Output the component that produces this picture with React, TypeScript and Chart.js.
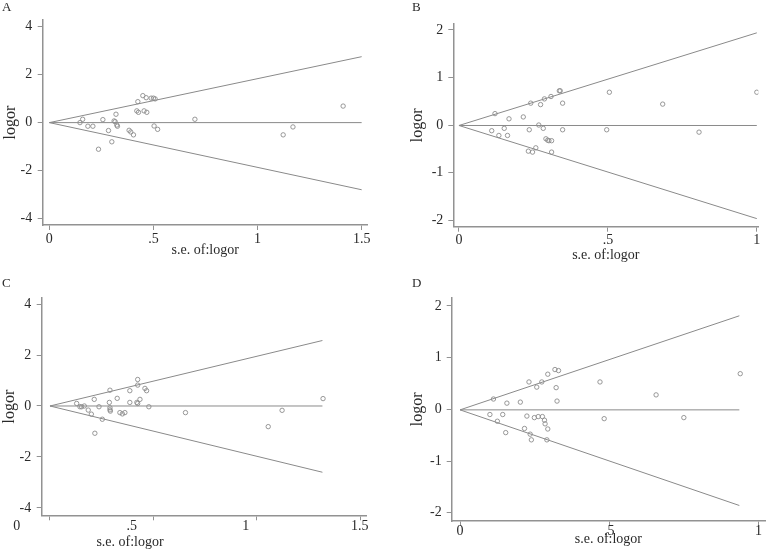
import React, { useEffect, useRef } from 'react';
import { Chart, registerables } from 'chart.js';

Chart.register(...registerables);

const FONT = "'Liberation Serif', 'Times New Roman', serif";
const INK = '#2a2a2a';
const AXIS = '#929292';
const LINE = '#8a8a8a';
const MARK = '#8c8c8c';

// ---------- Panel A ----------
const A_SE = [0.147, 0.16, 0.185, 0.209, 0.236, 0.257, 0.284, 0.3, 0.311, 0.316, 0.32, 0.324, 0.327, 0.383, 0.391, 0.404, 0.425, 0.42, 0.428, 0.455, 0.468, 0.449, 0.465, 0.489, 0.5, 0.508, 0.503, 0.52, 0.699, 1.123, 1.17, 1.411];
const A_LOGOR = [0, 0.14, -0.15, -0.15, -1.11, 0.125, -0.33, -0.8, 0.07, 0.04, 0.35, -0.1, -0.15, -0.32, -0.39, -0.51, 0.875, 0.49, 0.43, 0.49, 0.43, 1.125, 1.04, 1.02, 1.02, 0.99, -0.14, -0.28, 0.14, -0.51, -0.18, 0.69];
const A_FUNNEL_SE = [0, 1.5];
const A_FUNNEL_UP = [0, 2.75];
const A_FUNNEL_LO = [0, -2.8];
const A_CENTER = [0, 0];
const A_X_TICKS = [0, 0.5, 1, 1.5];
const A_X_LABELS = ['0', '.5', '1', '1.5'];
const A_Y_TICKS = [-4, -2, 0, 2, 4];
const A_Y_LABELS = ['-4', '-2', '0', '2', '4'];

// ---------- Panel B ----------
const B_SE = [0.11, 0.121, 0.134, 0.152, 0.163, 0.168, 0.216, 0.233, 0.236, 0.241, 0.247, 0.258, 0.268, 0.274, 0.283, 0.287, 0.292, 0.298, 0.302, 0.311, 0.309, 0.311, 0.337, 0.34, 0.348, 0.348, 0.496, 0.505, 0.684, 0.806, 1.0];
const B_LOGOR = [-0.12, 0.24, -0.22, -0.07, -0.22, 0.13, 0.17, -0.55, -0.1, 0.46, -0.57, -0.48, 0, 0.43, -0.07, 0.55, -0.29, -0.32, -0.33, -0.33, 0.6, -0.57, 0.72, 0.72, 0.46, -0.1, -0.1, 0.69, 0.44, -0.15, 0.69];
const B_FUNNEL_SE = [0, 1.0];
const B_FUNNEL_UP = [-0.01, 1.94];
const B_FUNNEL_LO = [-0.01, -1.97];
const B_CENTER = [-0.01, -0.01];
const B_X_TICKS = [0, 0.5, 1];
const B_X_LABELS = ['0', '.5', '1'];
const B_Y_TICKS = [-2, -1, 0, 1, 2];
const B_Y_LABELS = ['-2', '-1', '0', '1', '2'];

// ---------- Panel C ----------
const C_SE = [0.129, 0.145, 0.153, 0.166, 0.185, 0.2, 0.214, 0.217, 0.237, 0.253, 0.29, 0.287, 0.29, 0.29, 0.292, 0.325, 0.338, 0.35, 0.362, 0.386, 0.386, 0.424, 0.424, 0.42, 0.424, 0.435, 0.459, 0.467, 0.478, 0.655, 1.055, 1.122, 1.32];
const C_LOGOR = [0.1, -0.03, -0.03, 0, -0.16, -0.32, 0.26, -1.07, -0.03, -0.52, 0.62, 0.14, -0.07, -0.15, -0.2, 0.3, -0.26, -0.31, -0.26, 0.6, 0.14, 1.04, 0.82, 0.14, 0.1, 0.26, 0.69, 0.6, -0.03, -0.26, -0.81, -0.17, 0.29];
const C_FUNNEL_SE = [0, 1.317];
const C_FUNNEL_UP = [0, 2.57];
const C_FUNNEL_LO = [0, -2.6];
const C_CENTER = [0, 0];
const C_X_TICKS = [0, 0.5, 1, 1.5];
const C_X_LABELS = ['0', '.5', '1', '1.5'];
// where the (offset) tick labels sit in the source figure, in x-axis units
const C_X_LABEL_AT = [-0.161, 0.395, 0.946, 1.498];
const C_Y_TICKS = [-4, -2, 0, 2, 4];
const C_Y_LABELS = ['-4', '-2', '0', '2', '4'];

// ---------- Panel D ----------
const D_SE = [0.1, 0.112, 0.125, 0.143, 0.153, 0.157, 0.202, 0.216, 0.224, 0.231, 0.235, 0.239, 0.249, 0.257, 0.262, 0.274, 0.276, 0.283, 0.285, 0.291, 0.294, 0.294, 0.318, 0.33, 0.322, 0.325, 0.469, 0.483, 0.657, 0.75, 0.939];
const D_LOGOR = [-0.1, 0.2, -0.23, -0.1, -0.45, 0.12, 0.14, -0.37, -0.13, 0.53, -0.48, -0.59, -0.16, 0.43, -0.14, 0.53, -0.14, -0.21, -0.28, -0.59, 0.68, -0.38, 0.77, 0.75, 0.42, 0.16, 0.53, -0.18, 0.28, -0.16, 0.69];
const D_FUNNEL_SE = [0, 0.936];
const D_FUNNEL_UP = [-0.01, 1.81];
const D_FUNNEL_LO = [-0.01, -1.86];
const D_CENTER = [-0.01, -0.01];
const D_X_TICKS = [0, 0.5, 1];
const D_X_LABELS = ['0', '.5', '1'];
const D_Y_TICKS = [-2, -1, 0, 1, 2];
const D_Y_LABELS = ['-2', '-1', '0', '1', '2'];

const X_TITLE = 's.e. of:logor';
const Y_TITLE = 'logor';

type Panel = {
  letter: string;
  left: number; top: number;
  se: number[]; logor: number[];
  fse: number[]; fup: number[]; flo: number[]; fc: number[];
  xTicks: number[]; xLabels: string[]; yTicks: number[]; yLabels: string[];
  xMin: number; xMax: number; yMin: number; yMax: number;
  padTop: number; padRight: number; yWidth: number; xHeight: number;
  yTitlePad: number; xTitlePad: number; xTickPad: number; yTickPad: number;
  shifted?: { at: number[]; titleAt: number; dy: number; titleDy: number };
};

const PANELS: Panel[] = [
  {
    letter: 'A', left: 0, top: 0,
    se: A_SE, logor: A_LOGOR, fse: A_FUNNEL_SE, fup: A_FUNNEL_UP, flo: A_FUNNEL_LO, fc: A_CENTER,
    xTicks: A_X_TICKS, xLabels: A_X_LABELS, yTicks: A_Y_TICKS, yLabels: A_Y_LABELS,
    xMin: -0.032, xMax: 1.529, yMin: -4.27, yMax: 4.28,
    padTop: 20, padRight: 17.3, yWidth: 42.7, xHeight: 51,
    yTitlePad: 1, xTitlePad: 17, xTickPad: 1, yTickPad: 5.5,
  },
  {
    letter: 'B', left: 385, top: 0,
    se: B_SE, logor: B_LOGOR, fse: B_FUNNEL_SE, fup: B_FUNNEL_UP, flo: B_FUNNEL_LO, fc: B_CENTER,
    xTicks: B_X_TICKS, xLabels: B_X_LABELS, yTicks: B_Y_TICKS, yLabels: B_Y_LABELS,
    xMin: -0.019, xMax: 1.005, yMin: -2.14, yMax: 2.126,
    padTop: 24, padRight: 11.7, yWidth: 68.3, xHeight: 49.3,
    yTitlePad: 23, xTitlePad: 12.6, xTickPad: 0, yTickPad: 5,
  },
  {
    letter: 'C', left: 0, top: 276,
    se: C_SE, logor: C_LOGOR, fse: C_FUNNEL_SE, fup: C_FUNNEL_UP, flo: C_FUNNEL_LO, fc: C_CENTER,
    xTicks: C_X_TICKS, xLabels: C_X_LABELS, yTicks: C_Y_TICKS, yLabels: C_Y_LABELS,
    xMin: -0.04, xMax: 1.531, yMin: -4.29, yMax: 4.25,
    padTop: 21.7, padRight: 18.3, yWidth: 41.7, xHeight: 36.7,
    yTitlePad: 0, xTitlePad: 0, xTickPad: 0, yTickPad: 5.5,
    shifted: { at: C_X_LABEL_AT, titleAt: 0.387, dy: 11, titleDy: 27.4 },
  },
  {
    letter: 'D', left: 385, top: 276,
    se: D_SE, logor: D_LOGOR, fse: D_FUNNEL_SE, fup: D_FUNNEL_UP, flo: D_FUNNEL_LO, fc: D_CENTER,
    xTicks: D_X_TICKS, xLabels: D_X_LABELS, yTicks: D_Y_TICKS, yLabels: D_Y_LABELS,
    xMin: -0.028, xMax: 1.022, yMin: -2.16, yMax: 2.16,
    padTop: 21.7, padRight: 5, yWidth: 66.7, xHeight: 31,
    yTitlePad: 23, xTitlePad: 4.3, xTickPad: -3, yTickPad: 5,
  },
];

const shiftedXLabels = {
  id: 'shiftedXLabels',
  afterDraw(chart: any, _args: any, opts: any) {
    if (!opts || !opts.at) return;
    const { ctx, chartArea } = chart;
    const xs = chart.scales.x;
    ctx.save();
    ctx.fillStyle = INK;
    ctx.textAlign = 'center';
    ctx.textBaseline = 'middle';
    ctx.font = `14px ${FONT}`;
    opts.labels.forEach((t: string, i: number) => {
      ctx.fillText(t, xs.getPixelForValue(opts.at[i]), chartArea.bottom + opts.dy);
    });
    ctx.fillText(opts.title, xs.getPixelForValue(opts.titleAt), chartArea.bottom + opts.titleDy);
    ctx.restore();
  },
};

function FunnelPanel({ p }: { p: Panel }) {
  const ref = useRef<HTMLCanvasElement>(null);
  useEffect(() => {
    if (!ref.current) return;
    const line = (ys: number[]) => ({
      type: 'line' as const,
      data: p.fse.map((x, i) => ({ x, y: ys[i] })),
      showLine: true,
      borderColor: LINE,
      borderWidth: 1,
      pointRadius: 0,
      fill: false,
    });
    const shifted = p.shifted;
    const chart = new Chart(ref.current, {
      type: 'scatter',
      data: {
        datasets: [
          {
            data: p.se.map((x, i) => ({ x, y: p.logor[i] })),
            pointRadius: 2.2,
            pointStyle: 'circle',
            borderColor: MARK,
            backgroundColor: 'rgba(0,0,0,0)',
            borderWidth: 0.9,
          },
          line(p.fup) as any,
          line(p.flo) as any,
          line(p.fc) as any,
        ],
      },
      plugins: shifted ? [shiftedXLabels] : [],
      options: {
        animation: false,
        responsive: false,
        maintainAspectRatio: false,
        layout: { padding: { left: 0, top: p.padTop, right: p.padRight, bottom: 0 } },
        plugins: {
          legend: { display: false },
          tooltip: { enabled: false },
          ...(shifted
            ? { shiftedXLabels: { at: shifted.at, labels: p.xLabels, title: X_TITLE, titleAt: shifted.titleAt, dy: shifted.dy, titleDy: shifted.titleDy } }
            : {}),
        } as any,
        scales: {
          x: {
            type: 'linear',
            position: 'bottom',
            min: p.xMin,
            max: p.xMax,
            afterBuildTicks: (s: any) => { s.ticks = p.xTicks.map((v) => ({ value: v })); },
            afterFit: (s: any) => { s.height = p.xHeight; },
            ticks: {
              display: !shifted,
              autoSkip: false,
              maxRotation: 0,
              padding: p.xTickPad,
              color: INK,
              font: { family: FONT, size: 14 },
              callback: (v: any) => { const i = p.xTicks.indexOf(Number(v)); return i >= 0 ? p.xLabels[i] : ''; },
            },
            grid: { drawOnChartArea: false, drawTicks: true, tickLength: 5, color: AXIS, lineWidth: 1 },
            border: { display: true, color: AXIS, width: 1.5 },
            title: {
              display: !shifted,
              text: X_TITLE,
              color: INK,
              font: { family: FONT, size: 14 },
              padding: { top: 0, bottom: p.xTitlePad },
            },
          },
          y: {
            type: 'linear',
            position: 'left',
            min: p.yMin,
            max: p.yMax,
            afterBuildTicks: (s: any) => { s.ticks = p.yTicks.map((v) => ({ value: v })); },
            afterFit: (s: any) => { s.width = p.yWidth; },
            ticks: {
              autoSkip: false,
              padding: p.yTickPad,
              color: INK,
              font: { family: FONT, size: 14 },
              callback: (v: any) => { const i = p.yTicks.indexOf(Number(v)); return i >= 0 ? p.yLabels[i] : ''; },
            },
            grid: { drawOnChartArea: false, drawTicks: true, tickLength: 5, color: AXIS, lineWidth: 1 },
            border: { display: true, color: AXIS, width: 1.5 },
            title: {
              display: true,
              text: Y_TITLE,
              color: INK,
              font: { family: FONT, size: 16 },
              padding: { top: p.yTitlePad, bottom: 0 },
            },
          },
        },
      },
    });
    return () => chart.destroy();
  }, [p]);

  return (
    <div style={{ position: 'absolute', left: p.left, top: p.top, width: 385, height: 276 }}>
      <canvas ref={ref} width={385} height={276} style={{ width: 385, height: 276, display: 'block' }} />
      <div
        style={{
          position: 'absolute',
          left: p.left === 0 ? 2 : 27,
          top: 0,
          fontFamily: FONT,
          fontSize: 13,
          lineHeight: '14px',
          color: INK,
        }}
      >
        {p.letter}
      </div>
    </div>
  );
}

export default function App() {
  return (
    <div style={{ position: 'absolute', left: 0, top: 0, width: 770, height: 552, background: '#fff', overflow: 'hidden' }}>
      {PANELS.map((p) => (
        <FunnelPanel key={p.letter} p={p} />
      ))}
    </div>
  );
}
